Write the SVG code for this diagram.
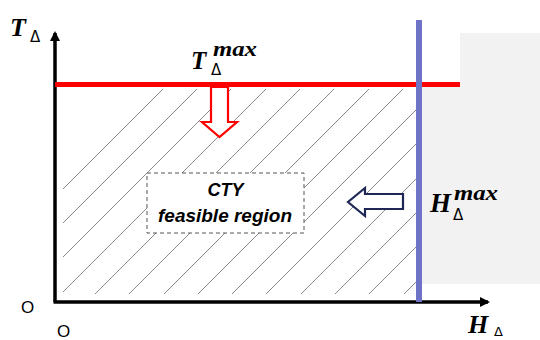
<svg xmlns="http://www.w3.org/2000/svg" width="540" height="340" viewBox="0 0 540 340">
<style>
.hatch{stroke:#8a8a8a;stroke-width:1;fill:none}
.math{font-family:"Liberation Serif","DejaVu Serif",serif;font-weight:bold;font-style:italic;fill:#000}
.greek{font-family:"DejaVu Sans","Liberation Sans",sans-serif;font-weight:normal;fill:#000}
.lbl{font-family:"Liberation Sans",Arial,sans-serif;fill:#000}
.box{font-family:"Liberation Sans",Arial,sans-serif;font-weight:bold;font-style:italic;fill:#000;font-size:18px}
</style>
<defs>
<clipPath id="hclip"><rect x="63" y="89" width="353" height="205"/></clipPath>
<marker id="ah" markerWidth="10" markerHeight="10" refX="8" refY="5" orient="auto" markerUnits="userSpaceOnUse">
<path d="M0,0 L10,5 L0,10 Z" fill="#000"/>
</marker>
</defs>
<rect width="540" height="340" fill="#fff"/>
<g id="infeasible">
<path d="M460,33 H540 V284 H422 V87 H460 Z" fill="#f2f2f2"/>
</g>
<g id="hatching" clip-path="url(#hclip)">
<path class="hatch" d="M164,88 L-44,296 M198,88 L-10,296 M232,88 L24,296 M267,88 L59,296 M301,88 L93,296 M335,88 L127,296 M370,88 L162,296 M404,88 L196,296 M438,88 L230,296 M472,88 L264,296 M507,88 L299,296 M541,88 L333,296 M575,88 L367,296 M610,88 L402,296 M644,88 L436,296 M678,88 L470,296 M713,88 L505,296"/>
</g>
<g id="region">
<rect x="147" y="173" width="157" height="60" fill="#fff" stroke="#555" stroke-width="1" stroke-dasharray="4,3"/>
<text class="box" x="225.5" y="196" text-anchor="middle">CTY</text>
<text class="box" x="158" y="222" textLength="134" lengthAdjust="spacingAndGlyphs">feasible region</text>
</g>
<g id="connectors">
<line x1="55" y1="302" x2="55" y2="33" stroke="#000" stroke-width="3.5" marker-end="url(#ah)"/>
<line x1="53.5" y1="302" x2="488" y2="302" stroke="#000" stroke-width="3.5" marker-end="url(#ah)"/>
</g>
<g id="tmax">
<line x1="55" y1="84.5" x2="460" y2="84.5" stroke="#ff0000" stroke-width="5"/>
<path d="M211,87 H228 V122 H237 L219.5,137 L202,122 H211 Z" fill="#fff" stroke="#ff0000" stroke-width="2.2"/>
<text class="math" x="191" y="69" font-size="25">T</text>
<text class="greek" x="211" y="75" font-size="15">Δ</text>
<text class="math" x="213" y="56" font-size="21" textLength="44" lengthAdjust="spacingAndGlyphs">max</text>
</g>
<g id="hmax">
<line x1="419" y1="20" x2="419" y2="302" stroke="#6e73c6" stroke-width="6"/>
<path d="M403,194 V209 H365 V216 L348,202 L365,188 V194 Z" fill="#fff" stroke="#1f2757" stroke-width="2.2"/>
<text class="math" x="430" y="212" font-size="27">H</text>
<text class="greek" x="453" y="220" font-size="15">Δ</text>
<text class="math" x="454" y="200" font-size="21" textLength="44" lengthAdjust="spacingAndGlyphs">max</text>
</g>
<g id="axis-labels">
<text class="math" x="10" y="36" font-size="26">T</text>
<text class="greek" x="30" y="42" font-size="15">Δ</text>
<text class="math" x="468" y="333" font-size="26">H</text>
<text class="greek" x="494" y="336" font-size="13">Δ</text>
<text class="lbl" x="21" y="313" font-size="17">O</text>
<text class="lbl" x="57" y="337" font-size="17">O</text>
</g>
</svg>
